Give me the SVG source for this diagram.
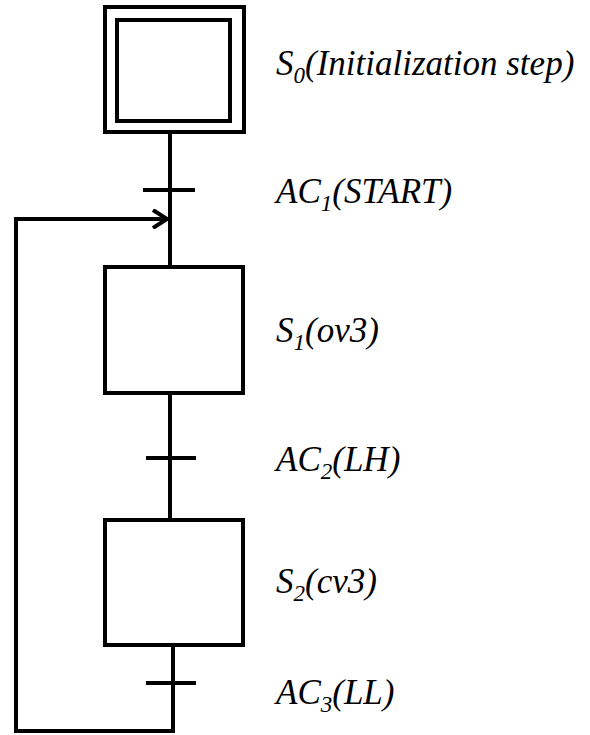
<svg xmlns="http://www.w3.org/2000/svg" width="590" height="735" viewBox="0 0 590 735">
  <style>
    .box { fill: #fff; stroke: #000; stroke-width: 4; }
    .wire { fill: none; stroke: #000; stroke-width: 4; stroke-linejoin: miter; }
    .lbl { font-family: "Liberation Serif", "Times New Roman", serif; font-style: italic; font-size: 35px; fill: #000; }
    .sub { font-size: 23px; }
  </style>
  <defs>
    <marker id="chev" viewBox="0 0 16 20" refX="15" refY="10" markerWidth="16" markerHeight="20" markerUnits="userSpaceOnUse" orient="auto">
      <path d="M1,1 L15,10 L1,19" fill="none" stroke="#000" stroke-width="4"/>
    </marker>
  </defs>

  <!-- connectors: links between steps, transition bars and loop back -->
  <g id="connectors">
    <line class="wire" x1="170" y1="132" x2="170" y2="267"/>
    <line class="wire" x1="143" y1="190" x2="195" y2="190"/>
    <line class="wire" x1="170" y1="393" x2="170" y2="520"/>
    <line class="wire" x1="146" y1="458" x2="196" y2="458"/>
    <line class="wire" x1="173" y1="645" x2="173" y2="733"/>
    <line class="wire" x1="146" y1="683" x2="196" y2="683"/>
    <polyline class="wire" points="173,731 16,731 16,219 167,219" marker-end="url(#chev)"/>
  </g>

  <!-- initial step S0 (double frame) -->
  <g id="S0">
    <rect class="box" x="105" y="7" width="139" height="125"/>
    <rect class="box" x="117" y="20" width="113" height="101"/>
    <text class="lbl" x="276" y="75">S<tspan class="sub" dy="8">0</tspan><tspan dy="-8">(Initialization step)</tspan></text>
  </g>

  <g id="AC1">
    <text class="lbl" x="276" y="203">AC<tspan class="sub" dy="8">1</tspan><tspan dy="-8">(START)</tspan></text>
  </g>

  <g id="S1">
    <rect class="box" x="105" y="267" width="138" height="126"/>
    <text class="lbl" x="276" y="342">S<tspan class="sub" dy="8">1</tspan><tspan dy="-8">(ov3)</tspan></text>
  </g>

  <g id="AC2">
    <text class="lbl" x="276" y="471">AC<tspan class="sub" dy="8">2</tspan><tspan dy="-8">(LH)</tspan></text>
  </g>

  <g id="S2">
    <rect class="box" x="105" y="520" width="138" height="125"/>
    <text class="lbl" x="276" y="593">S<tspan class="sub" dy="8">2</tspan><tspan dy="-8">(cv3)</tspan></text>
  </g>

  <g id="AC3">
    <text class="lbl" x="276" y="704">AC<tspan class="sub" dy="8">3</tspan><tspan dy="-8">(LL)</tspan></text>
  </g>
</svg>
